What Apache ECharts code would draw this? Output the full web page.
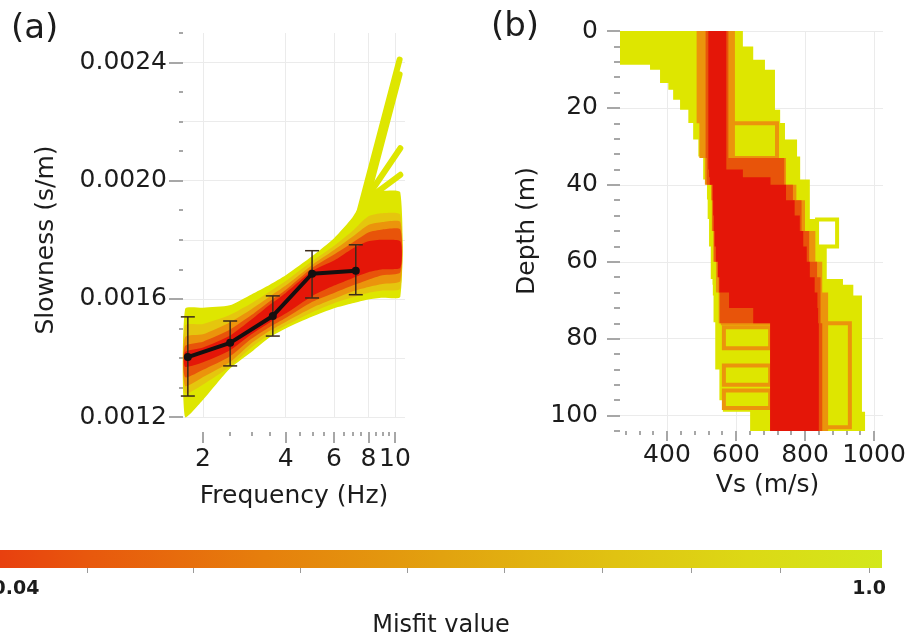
<!DOCTYPE html>
<html>
<head>
<meta charset="utf-8">
<script src="https://cdn.jsdelivr.net/npm/echarts@6/dist/echarts.min.js"></script>
<style>
html, body { margin: 0; padding: 0; background: #ffffff; }
#chart { width: 906px; height: 639px; }
</style>
</head>
<body>
<div id="chart"></div>
<script>
// ---------- (a) dispersion curves: envelopes of modelled curves per misfit level ----------
const bandFreq = [1.72, 2, 2.5, 3, 3.5, 4, 5, 6, 7, 8, 9, 10.46];
const dispMisfit = [1.0, 0.7, 0.4, 0.15, 0.04];
const slowUpper = [
  [0.001566, 0.001570, 0.001578, 0.001615, 0.001648, 0.001680, 0.001745, 0.001805, 0.001875, 0.001960, 0.001965, 0.001960],
  [0.001510, 0.001515, 0.001545, 0.001585, 0.001625, 0.001660, 0.001728, 0.001780, 0.001830, 0.001880, 0.001890, 0.001885],
  [0.001470, 0.001480, 0.001520, 0.001565, 0.001608, 0.001645, 0.001715, 0.001765, 0.001810, 0.001850, 0.001860, 0.001860],
  [0.001440, 0.001455, 0.001495, 0.001545, 0.001592, 0.001630, 0.001705, 0.001750, 0.001790, 0.001825, 0.001835, 0.001835],
  [0.001420, 0.001435, 0.001475, 0.001530, 0.001580, 0.001620, 0.001695, 0.001730, 0.001770, 0.001795, 0.001800, 0.001795]
];
const slowLower = [
  [0.001200, 0.001258, 0.001363, 0.001420, 0.001470, 0.001500, 0.001540, 0.001568, 0.001585, 0.001598, 0.001604, 0.001607],
  [0.001280, 0.001310, 0.001370, 0.001435, 0.001480, 0.001510, 0.001555, 0.001585, 0.001605, 0.001620, 0.001628, 0.001635],
  [0.001305, 0.001335, 0.001385, 0.001450, 0.001492, 0.001522, 0.001570, 0.001600, 0.001625, 0.001640, 0.001650, 0.001660],
  [0.001335, 0.001360, 0.001405, 0.001465, 0.001505, 0.001535, 0.001590, 0.001620, 0.001645, 0.001665, 0.001680, 0.001690],
  [0.001370, 0.001385, 0.001425, 0.001480, 0.001520, 0.001550, 0.001610, 0.001645, 0.001670, 0.001690, 0.001700, 0.001705]
];
// individual high-misfit curves that leave the envelope at high frequency
const outlierCurves = [
  [[7.4, 0.00189], [10.4, 0.00241]],
  [[7.7, 0.00190], [10.4, 0.00236]],
  [[8.0, 0.00195], [10.46, 0.00211]],
  [[8.3, 0.00195], [10.46, 0.00202]]
];
// measured dispersion curve with error bars
const obsFreq = [1.76, 2.51, 3.59, 4.99, 7.2];
const obsSlow = [0.001403, 0.001451, 0.001542, 0.001685, 0.001695];
const obsLow = [0.001271, 0.001373, 0.001474, 0.001603, 0.001614];
const obsHigh = [0.001539, 0.001525, 0.001610, 0.001763, 0.001783];

// axis ticks of panel (a)
const freqLabels = [2, 4, 6, 8, 10];
const freqMinorTicks = [2.5, 3, 3.5, 4.5, 5, 5.5, 6.5, 7, 7.5, 8.5, 9, 9.5];
const slowLabels = [0.0012, 0.0016, 0.0020, 0.0024];
const slowMinorTicks = [0.0012, 0.0013, 0.0014, 0.0015, 0.0016, 0.0017, 0.0018, 0.0019, 0.0020, 0.0021, 0.0022, 0.0023, 0.0024, 0.0025];
const slowGrid = [0.0012, 0.0014, 0.0016, 0.0018, 0.0020, 0.0022, 0.0024];

// ---------- (b) Vs profiles: step envelopes per misfit level ----------
const vsMisfit = [1.0, 0.4, 0.15, 0.04];
const vsDepth = [
  [0, 4, 7.5, 8.8, 10.1, 13.5, 15.3, 17.9, 20.5, 23.9, 28.2, 32.6, 38.6, 43.8, 48.9, 56, 64.5, 66, 68.8, 75.7, 88, 96, 99, 104],
  [0, 24, 33, 40, 44, 52, 60, 68, 76, 104],
  [0, 33, 40, 44, 52, 60, 64, 68, 76, 104],
  [0, 36, 38, 40, 44, 48, 52, 56, 60, 64, 68, 72, 76, 104]
];
const vsLeft = [
  [264, 264, 264, 351, 380, 404, 418, 438, 462, 476, 491, 505, 516, 518, 522, 527, 532, 533, 535, 540, 552, 562, 641],
  [486, 494, 510, 528, 530, 534, 542, 550, 699],
  [512, 515, 530, 532, 537, 546, 550, 553, 699],
  [520, 522, 524, 533, 534, 536, 538, 542, 548, 552, 580, 650, 699]
];
const vsRight = [
  [620, 650, 684, 684, 713, 713, 713, 713, 728, 742, 777, 786, 814, 814, 835, 863, 910, 940, 965, 965, 965, 965, 974],
  [597, 597, 745, 775, 800, 830, 850, 867, 867],
  [578, 740, 765, 790, 812, 835, 845, 845, 850],
  [572, 620, 700, 745, 770, 785, 795, 805, 814, 828, 836, 838, 840]
];
// layer blocks of single profiles: [Vs left, Vs right, top depth, bottom depth, misfit]
const profileBlocks = [
  [583, 719, 24, 33, 0.4],
  [835, 893, 49, 56, 1.0],
  [855, 930, 76, 103, 0.4],
  [562, 699, 69.5, 76, 0.4],
  [565, 699, 77, 82.5, 0.4],
  [565, 699, 87, 92, 0.4],
  [565, 699, 93.5, 98, 0.4]
];

// axis ticks of panel (b)
const vsLabels = [400, 600, 800, 1000];
const vsMinorTicks = [280, 320, 360, 400, 440, 480, 520, 560, 600, 640, 680, 720, 760, 800, 840, 880, 920, 960, 1000];
const depthLabels = [0, 20, 40, 60, 80, 100];
const depthMinorTicks = [0, 4, 8, 12, 16, 20, 24, 28, 32, 36, 40, 44, 48, 52, 56, 60, 64, 68, 72, 76, 80, 84, 88, 92, 96, 100, 104];

// ---------- colour bar ----------
const colorbarExtent = [0.022, 1.0146];
const colorbarLabels = [0.04, 1.0];
const colorbarTicks = [0.12, 0.24, 0.36, 0.48, 0.59, 0.70, 0.80, 0.90, 1.0];
const colorbarStops = [
  [0, '#e8400f'], [0.1, '#e8580d'], [0.3, '#e67f0c'], [0.5, '#e2a20f'],
  [0.7, '#e0c312'], [0.85, '#dcd915'], [1, '#d3e81b']
];

// misfit -> colour used for the modelled curves and profiles
const plotRamp = [
  [0.04, [228, 22, 8]], [0.15, [232, 84, 10]], [0.4, [235, 148, 12]],
  [0.7, [229, 198, 14]], [1.0, [222, 230, 0]]
];
function misfitColor(m) {
  for (let i = 1; i < plotRamp.length; i++) {
    if (m <= plotRamp[i][0]) {
      const m0 = plotRamp[i - 1][0], c0 = plotRamp[i - 1][1];
      const m1 = plotRamp[i][0], c1 = plotRamp[i][1];
      const t = Math.max(0, (m - m0) / (m1 - m0));
      return 'rgb(' + c0.map((c, k) => Math.round(c + (c1[k] - c) * t)).join(',') + ')';
    }
  }
  const last = plotRamp[plotRamp.length - 1][1];
  return 'rgb(' + last.join(',') + ')';
}

const FONT = 'DejaVu Sans';
const TXT = '#1c1c1c';
const TICK = { color: '#8a8a8a', width: 1.5 };
const GRIDLINE = { color: '#ebebeb', width: 1 };
const NOLINE = { show: false, onZero: false };

const chart = echarts.init(document.getElementById('chart'), null, { renderer: 'canvas' });

const option = {
  animation: false,
  backgroundColor: '#ffffff',
  textStyle: { fontFamily: FONT },
  graphic: [
    { type: 'text', left: 11, top: 12, style: { text: '(a)', font: '34px "DejaVu Sans"', fill: TXT } },
    { type: 'text', left: 491, top: 10, style: { text: '(b)', font: '34px "DejaVu Sans"', fill: TXT } }
  ],
  grid: [
    { left: 183, top: 33, width: 222, height: 384, outerBoundsMode: 'none', containLabel: false },
    { left: 620, top: 31, width: 263, height: 400, outerBoundsMode: 'none', containLabel: false },
    { left: 0, top: 550, width: 882, height: 18, outerBoundsMode: 'none', containLabel: false }
  ],
  xAxis: [
    { // (a) frequency: labels, major ticks, vertical grid
      type: 'log', gridIndex: 0, position: 'bottom', min: 1.69, max: 10.88, offset: 15,
      axisLine: NOLINE,
      axisTick: { customValues: freqLabels, length: 11, lineStyle: TICK },
      axisLabel: { customValues: freqLabels, margin: 15, fontSize: 25, color: TXT, fontFamily: FONT,
                   formatter: v => String(Math.round(v)) },
      splitLine: { show: true, lineStyle: GRIDLINE },
      name: 'Frequency (Hz)', nameLocation: 'middle', nameGap: 52,
      nameTextStyle: { fontSize: 25, color: TXT, fontFamily: FONT }
    },
    { // (a) frequency minor ticks
      type: 'log', gridIndex: 0, position: 'bottom', min: 1.69, max: 10.88, offset: 15,
      axisLine: NOLINE,
      axisTick: { customValues: freqMinorTicks, length: 4, lineStyle: TICK },
      axisLabel: { show: false }, splitLine: { show: false }
    },
    { // (b) Vs: labels, major ticks, vertical grid
      type: 'value', gridIndex: 1, position: 'bottom', min: 264, max: 1026,
      axisLine: NOLINE,
      axisTick: { customValues: vsLabels, length: 10, lineStyle: TICK },
      axisLabel: { customValues: vsLabels, margin: 12, fontSize: 25, color: TXT, fontFamily: FONT,
                   formatter: v => String(v) },
      splitLine: { show: true, lineStyle: GRIDLINE },
      name: 'Vs (m/s)', nameLocation: 'middle', nameGap: 42,
      nameTextStyle: { fontSize: 25, color: TXT, fontFamily: FONT, padding: [0, 0, 0, 32] }
    },
    { // (b) Vs minor ticks
      type: 'value', gridIndex: 1, position: 'bottom', min: 264, max: 1026,
      axisLine: NOLINE,
      axisTick: { customValues: vsMinorTicks, length: 4, lineStyle: TICK },
      axisLabel: { show: false }, splitLine: { show: false }
    },
    { // colour bar scale
      type: 'value', gridIndex: 2, position: 'bottom', min: colorbarExtent[0], max: colorbarExtent[1],
      axisLine: NOLINE,
      axisTick: { customValues: colorbarTicks, length: 5, lineStyle: { color: '#9a9a9a', width: 1 } },
      axisLabel: { customValues: colorbarLabels, margin: 12, fontSize: 19, fontWeight: 'bold', color: TXT,
                   fontFamily: FONT, formatter: v => (v >= 1 ? v.toFixed(1) : String(v)) },
      splitLine: { show: false },
      name: 'Misfit value', nameLocation: 'middle', nameGap: 46,
      nameTextStyle: { fontSize: 24, color: TXT, fontFamily: FONT }
    }
  ],
  yAxis: [
    { // (a) slowness: labels + labelled ticks
      type: 'value', gridIndex: 0, position: 'left', min: 0.0012, max: 0.0025,
      axisLine: NOLINE,
      axisTick: { customValues: slowLabels, length: 14, lineStyle: TICK },
      axisLabel: { customValues: slowLabels, margin: 16, fontSize: 25, color: TXT, fontFamily: FONT,
                   formatter: v => v.toFixed(4) },
      splitLine: { show: false },
      name: 'Slowness (s/m)', nameLocation: 'middle', nameGap: 124, nameRotate: 90,
      nameTextStyle: { fontSize: 25, color: TXT, fontFamily: FONT, padding: [0, 30, 0, 0] }
    },
    { // (a) slowness minor ticks
      type: 'value', gridIndex: 0, position: 'left', min: 0.0012, max: 0.0025,
      axisLine: NOLINE,
      axisTick: { customValues: slowMinorTicks, length: 4, lineStyle: TICK },
      axisLabel: { show: false }, splitLine: { show: false }
    },
    { // (a) horizontal grid
      type: 'value', gridIndex: 0, position: 'left', min: 0.0012, max: 0.0025,
      axisLine: NOLINE,
      axisTick: { show: false, customValues: slowGrid },
      axisLabel: { show: false }, splitLine: { show: true, lineStyle: GRIDLINE }
    },
    { // (b) depth: labels, major ticks, horizontal grid
      type: 'value', gridIndex: 1, position: 'left', inverse: true, min: 0, max: 104,
      axisLine: NOLINE,
      axisTick: { customValues: depthLabels, length: 13, lineStyle: TICK },
      axisLabel: { customValues: depthLabels, margin: 22, fontSize: 25, color: TXT, fontFamily: FONT },
      splitLine: { show: true, lineStyle: GRIDLINE },
      name: 'Depth (m)', nameLocation: 'middle', nameGap: 80, nameRotate: 90,
      nameTextStyle: { fontSize: 25, color: TXT, fontFamily: FONT }
    },
    { // (b) depth minor ticks
      type: 'value', gridIndex: 1, position: 'left', inverse: true, min: 0, max: 104,
      axisLine: NOLINE,
      axisTick: { customValues: depthMinorTicks, length: 6, lineStyle: TICK },
      axisLabel: { show: false }, splitLine: { show: false }
    },
    { type: 'value', gridIndex: 2, min: 0, max: 1, show: false }
  ],
  series: [
    { // (a) misfit envelopes, worst first so the best fits sit on top
      type: 'custom', xAxisIndex: 0, yAxisIndex: 0, silent: true, z: 2,
      data: dispMisfit.map((m, i) => [bandFreq[0], slowLower[i][0], i]),
      renderItem: function (params, api) {
        const i = api.value(2);
        const pts = [];
        for (let k = 0; k < bandFreq.length; k++) pts.push(api.coord([bandFreq[k], slowUpper[i][k]]));
        for (let k = bandFreq.length - 1; k >= 0; k--) pts.push(api.coord([bandFreq[k], slowLower[i][k]]));
        return { type: 'polygon', shape: { points: pts, smooth: 0.2 },
                 style: { fill: misfitColor(dispMisfit[i]), stroke: null } };
      }
    },
    ...outlierCurves.map(c => ({
      type: 'line', xAxisIndex: 0, yAxisIndex: 0, silent: true, z: 1,
      data: c, symbol: 'none',
      lineStyle: { color: misfitColor(1.0), width: 6, cap: 'round' }
    })),
    { // error bars of the measured curve
      type: 'custom', xAxisIndex: 0, yAxisIndex: 0, silent: true, z: 5,
      data: obsFreq.map((f, i) => [f, obsLow[i], obsHigh[i]]),
      renderItem: function (params, api) {
        const lo = api.coord([api.value(0), api.value(1)]);
        const hi = api.coord([api.value(0), api.value(2)]);
        const st = { stroke: '#3a2a1a', lineWidth: 1.5 };
        return { type: 'group', children: [
          { type: 'line', shape: { x1: lo[0], y1: lo[1], x2: hi[0], y2: hi[1] }, style: st },
          { type: 'line', shape: { x1: lo[0] - 7, y1: lo[1], x2: lo[0] + 7, y2: lo[1] }, style: st },
          { type: 'line', shape: { x1: hi[0] - 7, y1: hi[1], x2: hi[0] + 7, y2: hi[1] }, style: st }
        ] };
      }
    },
    { // measured dispersion curve
      type: 'line', xAxisIndex: 0, yAxisIndex: 0, silent: true, z: 6,
      data: obsFreq.map((f, i) => [f, obsSlow[i]]),
      symbol: 'circle', symbolSize: 8,
      lineStyle: { color: '#141010', width: 4 },
      itemStyle: { color: '#141010' }
    },
    { // (b) step envelopes of Vs profiles
      type: 'custom', xAxisIndex: 2, yAxisIndex: 3, silent: true, z: 2,
      data: vsMisfit.map((m, i) => [vsLeft[i][0], vsDepth[i][0], i]),
      renderItem: function (params, api) {
        const i = api.value(2);
        const D = vsDepth[i], L = vsLeft[i], R = vsRight[i];
        const pts = [];
        for (let k = 0; k < L.length; k++) {
          pts.push(api.coord([L[k], D[k]]));
          pts.push(api.coord([L[k], D[k + 1]]));
        }
        for (let k = R.length - 1; k >= 0; k--) {
          pts.push(api.coord([R[k], D[k + 1]]));
          pts.push(api.coord([R[k], D[k]]));
        }
        const z2 = i === 0 ? 0 : i + 1;
        return { type: 'polygon', z2: z2, shape: { points: pts },
                 style: { fill: misfitColor(vsMisfit[i]), stroke: null } };
      }
    },
    { // single-profile layer blocks
      type: 'custom', xAxisIndex: 2, yAxisIndex: 3, silent: true, z: 2,
      data: profileBlocks,
      renderItem: function (params, api) {
        const a = api.coord([api.value(0), api.value(2)]);
        const b = api.coord([api.value(1), api.value(3)]);
        return { type: 'rect', z2: 1,
                 shape: { x: a[0], y: a[1], width: b[0] - a[0], height: b[1] - a[1] },
                 style: { fill: null, stroke: misfitColor(api.value(4)), lineWidth: 4 } };
      }
    },
    { // colour bar
      type: 'custom', xAxisIndex: 4, yAxisIndex: 5, silent: true,
      data: [[colorbarExtent[0], colorbarExtent[1]]],
      renderItem: function (params, api) {
        const a = api.coord([api.value(0), 1]);
        const b = api.coord([api.value(1), 0]);
        return { type: 'rect',
                 shape: { x: a[0], y: a[1], width: b[0] - a[0], height: b[1] - a[1] },
                 style: { fill: new echarts.graphic.LinearGradient(0, 0, 1, 0,
                   colorbarStops.map(s => ({ offset: s[0], color: s[1] }))) } };
      }
    }
  ]
};

chart.setOption(option);
</script>
</body>
</html>
